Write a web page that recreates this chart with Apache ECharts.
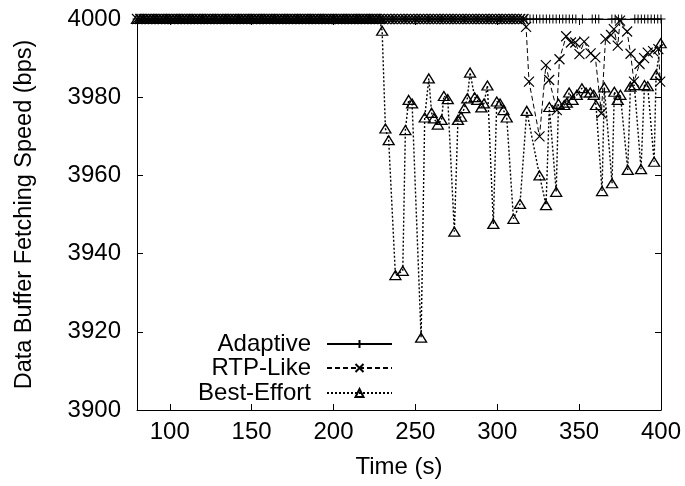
<!DOCTYPE html>
<html>
<head>
<meta charset="utf-8">
<script src="https://cdn.jsdelivr.net/npm/echarts@6/dist/echarts.min.js"></script>
<style>
  html, body { margin: 0; padding: 0; background: #fff; }
  #chart { width: 685px; height: 486px; }
</style>
</head>
<body>
<div id="chart"></div>
<script>
// sampling times (s) for the part where every scheme sits at full speed
const sampleTimes = [
  80, 82, 84, 86, 88, 90, 92, 94, 96, 98, 100, 102, 104, 106, 108, 110, 112, 114, 116, 118,
  120, 122, 124, 126, 128, 130, 132, 134, 136, 138, 140, 142, 144, 146, 148, 150, 152, 154, 156, 158,
  160, 162, 164, 166, 168, 170, 172, 174, 176, 178, 180, 182, 184, 186, 188, 190, 192, 194, 196, 198,
  200, 202, 204, 206, 208, 210, 212, 214, 216, 218, 220, 222, 224, 226, 228, 230, 232, 234, 236, 238,
  240, 242, 244, 246, 248, 250, 252, 254, 256, 258, 260, 262, 264, 266, 268, 270, 272, 274, 276, 278,
  280, 282, 284, 286, 288, 290, 292, 294, 296, 298, 300, 302, 304, 306, 308, 310, 312, 314, 316, 318,
  320, 322, 324, 326, 328, 330, 332, 334, 336, 338, 340, 342, 344, 346, 348, 350, 352, 354, 356, 358,
  360, 362, 364, 366, 368, 370, 372, 374, 376, 378, 380, 382, 384, 386, 388, 390, 392, 394, 396, 398, 400
];
const peakSpeed = 4000;
const adaptiveGaps = [350, 354, 356, 364, 366, 368, 378, 380, 382];
const rtpFlatUntil = 316;
const bestFlatUntil = 228;

const rtpTime = [317.6, 319.4, 325.8, 329.7, 331.7, 336.4, 338, 342.1, 345, 347.7, 350.2, 353.1, 357,
  359.9, 363.6, 366.1, 369.5, 371.2, 373.6, 375, 379.3, 381.4, 383.5, 386.9, 389.7, 391.9, 395.2, 398.4, 399.5];
const rtpSpeed = [3998, 3984, 3970, 3988.2, 3984.4, 3976.7, 3989.7, 3995.6, 3994, 3994, 3991, 3994.2, 3991.2,
  3990.2, 3975.9, 3994.9, 3995.9, 3997.4, 3993.2, 3999.6, 3996.8, 3991.1, 3984, 3988.5, 3990, 3991.4, 3991.8, 3992.3, 3984];

const bestTime = [229.7, 231.7, 233.7, 237.8, 242.3, 243.9, 245.9, 248, 253.5, 255.7, 258.2, 259.9, 261.3,
  263.7, 266, 267.4, 269.8, 273.8, 276, 277.9, 279.9, 281.7, 283.4, 286.2, 287.8, 290.3, 291.9, 294,
  297.6, 299.7, 301.7, 303.8, 305.8, 309.9, 313.9, 318, 325.8, 329.8, 331.8, 336, 337.4, 340.9, 342.5,
  343.9, 346, 348.6, 351.7, 354.2, 356.8, 358.9, 360.3, 364, 365.4, 370.1, 371.5, 373.6, 375.2, 379.7,
  381.3, 383.7, 387.8, 389.9, 391.9, 395.8, 397, 399.8];
const bestSpeed = [3997, 3972, 3969, 3934.5, 3935.6, 3971.6, 3979.3, 3978.4, 3918.5, 3974.8, 3984.8, 3976, 3974.6,
  3973, 3974.2, 3980.3, 3979.5, 3945.6, 3974.2, 3975, 3977.2, 3979.7, 3986.3, 3980, 3979.3, 3977.4, 3978.4, 3983,
  3947.6, 3978.9, 3978.4, 3976.7, 3974.8, 3948.9, 3952.7, 3976.5, 3960, 3952.4, 3977.5, 3955.8, 3978.3, 3978, 3978.6,
  3981.2, 3979.3, 3980.6, 3982.3, 3981.2, 3981.2, 3980.6, 3978, 3956, 3982.5, 3958, 3981.4, 3979.3, 3980.6, 3961.4,
  3982.7, 3983.1, 3961.6, 3983.1, 3982.8, 3963.5, 3985.7, 3993.8];

const timeTicks = [100, 150, 200, 250, 300, 350, 400];

const adaptiveData = sampleTimes.filter(t => !adaptiveGaps.includes(t)).map(t => [t, peakSpeed]);
const rtpData = sampleTimes.filter(t => t <= rtpFlatUntil).map(t => [t, peakSpeed])
  .concat(rtpTime.map((t, i) => [t, rtpSpeed[i]]));
const bestData = sampleTimes.filter(t => t <= bestFlatUntil).map(t => [t, peakSpeed])
  .concat(bestTime.map((t, i) => [t, bestSpeed[i]]));

const font = 'Liberation Sans, Arial, Helvetica, sans-serif';
const fs = 24;
const plus = 'path://M0,5L10,5M5,0L5,10';
const cross = 'path://M0,0L10,10M0,10L10,0';

const chart = echarts.init(document.getElementById('chart'));

const axisLine = { show: true, onZero: false, lineStyle: { color: '#000', width: 1 } };
const tick = { show: true, inside: true, length: 6, lineStyle: { color: '#000' } };

function legendFor(name, top) {
  return {
    data: [name], right: 292, top: top, orient: 'horizontal', align: 'right', padding: 0,
    itemWidth: 65, itemHeight: 10, selectedMode: false,
    textStyle: { fontFamily: font, fontSize: fs, color: '#000', padding: [0, 11, 0, 0] }
  };
}

chart.setOption({
  animation: false,
  textStyle: { fontFamily: font },
  grid: { left: 137, right: 24, top: 19, bottom: 76, containLabel: false },
  legend: [legendFor('Adaptive', 332), legendFor('RTP-Like', 356), legendFor('Best-Effort', 381)],
  xAxis: [
    {
      type: 'value', min: 80, max: 400, position: 'bottom',
      name: 'Time (s)', nameLocation: 'middle', nameGap: 45,
      nameTextStyle: { fontFamily: font, fontSize: fs, color: '#000' },
      axisLine: axisLine,
      axisTick: Object.assign({ customValues: timeTicks }, tick),
      axisLabel: { customValues: timeTicks, fontFamily: font, fontSize: fs, color: '#000', margin: 10 },
      splitLine: { show: false }
    },
    {
      type: 'value', min: 80, max: 400, position: 'top',
      axisLine: axisLine,
      axisTick: Object.assign({ customValues: timeTicks }, tick),
      axisLabel: { show: false },
      splitLine: { show: false }
    }
  ],
  yAxis: [
    {
      type: 'value', min: 3900, max: 4000, interval: 20, position: 'left',
      name: 'Data Buffer Fetching Speed (bps)', nameLocation: 'middle', nameGap: 100, nameRotate: 90,
      nameTextStyle: { fontFamily: font, fontSize: 23.5, color: '#000' },
      axisLine: axisLine, axisTick: tick,
      axisLabel: { fontFamily: font, fontSize: fs, color: '#000', margin: 16, formatter: v => String(v) },
      splitLine: { show: false }
    },
    {
      type: 'value', min: 3900, max: 4000, interval: 20, position: 'right',
      axisLine: axisLine, axisTick: tick,
      axisLabel: { show: false },
      splitLine: { show: false }
    }
  ],
  series: [
    {
      name: 'Adaptive', type: 'line', data: adaptiveData,
      symbol: plus, symbolSize: 9, showAllSymbol: true,
      lineStyle: { color: '#000', width: 1, type: 'solid' },
      itemStyle: { color: '#000', borderColor: '#000', borderWidth: 1 },
      emphasis: { disabled: true }
    },
    {
      name: 'RTP-Like', type: 'line', data: rtpData,
      symbol: cross, symbolSize: 10, showAllSymbol: true,
      lineStyle: { color: '#000', width: 1, type: [5, 3] },
      itemStyle: { color: '#000', borderColor: '#000', borderWidth: 1.2 },
      emphasis: { disabled: true }
    },
    {
      name: 'Best-Effort', type: 'line', data: bestData,
      symbol: 'triangle', symbolSize: [11, 9], showAllSymbol: true,
      lineStyle: { color: '#000', width: 1.4, type: [2, 2] },
      itemStyle: { color: 'rgba(255,255,255,0)', borderColor: '#000', borderWidth: 1.3 },
      emphasis: { disabled: true }
    }
  ]
});
</script>
</body>
</html>
